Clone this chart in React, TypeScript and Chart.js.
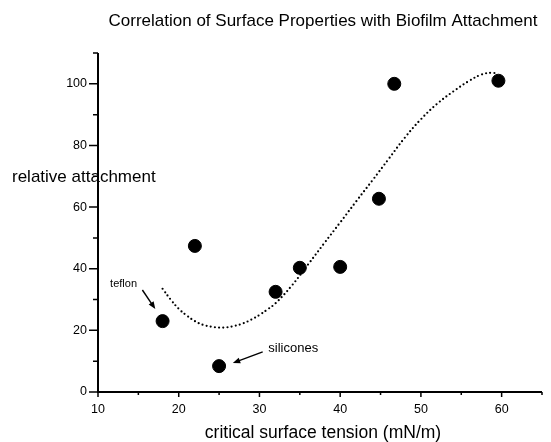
import React, { useEffect, useRef } from "react";
import { Chart, registerables } from "chart.js";

Chart.register(...registerables);

const tension = [18, 22, 25, 32, 35, 40, 44.8, 46.7, 59.6];
const attachment = [23, 47.4, 8.4, 32.5, 40.3, 40.6, 62.7, 100, 101];

const fitX = [18, 19, 20, 21, 22, 23, 24, 25, 26, 27, 28, 29, 30, 31, 32, 34, 36, 38, 40, 42, 44, 46, 48, 50, 52, 54, 56, 57.5, 58.8, 59.5];
const fitY = [33.5, 30, 27, 24.8, 23, 21.8, 21.2, 20.9, 21, 21.5, 22.3, 23.5, 25, 26.8, 28.8, 34.5, 41.3, 48.2, 55, 61.9, 68.7, 75.6, 82.5, 88.5, 93.5, 97.5, 101, 103, 103.6, 103.2];

const xMajorTicks = [10, 20, 30, 40, 50, 60];
const xMinorTicks = [15, 25, 35, 45, 55, 65];
const yMajorTicks = [0, 20, 40, 60, 80, 100];
const yMinorTicks = [10, 30, 50, 70, 90, 110];

const titleText = "Correlation of Surface Properties with Biofilm Attachment";
const xTitle = "critical surface tension (mN/m)";
const yTitle = "relative attachment";

const noteLabels = ["teflon", "silicones"];
const noteSizes = [11, 13];
const noteX = [11.5, 31.1];
const noteY = [34, 13];
const arrowFromX = [15.5, 30.4];
const arrowFromY = [33.1, 13];
const arrowToX = [17.1, 26.7];
const arrowToY = [26.9, 9.4];

const FONT = '"Liberation Sans", Arial, Helvetica, sans-serif';

const decorPlugin = {
  id: "decor",
  afterDraw(chart: any) {
    const ctx = chart.ctx;
    const xs = chart.scales.x;
    const ys = chart.scales.y;
    const area = chart.chartArea;
    ctx.save();
    ctx.strokeStyle = "#000";
    ctx.fillStyle = "#000";
    // axes
    ctx.lineWidth = 2;
    ctx.beginPath();
    ctx.moveTo(area.left, area.top);
    ctx.lineTo(area.left, area.bottom);
    ctx.lineTo(area.right, area.bottom);
    ctx.stroke();
    ctx.lineWidth = 1.5;
    ctx.beginPath();
    xMajorTicks.forEach((v) => {
      const p = xs.getPixelForValue(v);
      ctx.moveTo(p, area.bottom);
      ctx.lineTo(p, area.bottom + 5);
    });
    xMinorTicks.forEach((v) => {
      const p = xs.getPixelForValue(v);
      ctx.moveTo(p, area.bottom);
      ctx.lineTo(p, area.bottom + 3);
    });
    yMajorTicks.forEach((v) => {
      const p = ys.getPixelForValue(v);
      ctx.moveTo(area.left, p);
      ctx.lineTo(area.left - 9, p);
    });
    yMinorTicks.forEach((v) => {
      const p = ys.getPixelForValue(v);
      ctx.moveTo(area.left, p);
      ctx.lineTo(area.left - 5, p);
    });
    ctx.stroke();

    // titles
    ctx.textBaseline = "alphabetic";
    ctx.textAlign = "center";
    ctx.font = `17px ${FONT}`;
    ctx.fillText(titleText, 323, 26);
    ctx.font = `17.5px ${FONT}`;
    ctx.fillText(xTitle, 323, 438);
    ctx.font = `17px ${FONT}`;
    ctx.textAlign = "left";
    ctx.fillText(yTitle, 12, 182);

    // annotations
    ctx.textAlign = "left";
    noteLabels.forEach((t, i) => {
      ctx.font = `${noteSizes[i]}px ${FONT}`;
      ctx.fillText(t, xs.getPixelForValue(noteX[i]), ys.getPixelForValue(noteY[i]));
      const x1 = xs.getPixelForValue(arrowFromX[i]);
      const y1 = ys.getPixelForValue(arrowFromY[i]);
      const x2 = xs.getPixelForValue(arrowToX[i]);
      const y2 = ys.getPixelForValue(arrowToY[i]);
      const ang = Math.atan2(y2 - y1, x2 - x1);
      ctx.lineWidth = 1.4;
      ctx.beginPath();
      ctx.moveTo(x1, y1);
      ctx.lineTo(x2 - 4 * Math.cos(ang), y2 - 4 * Math.sin(ang));
      ctx.stroke();
      const hl = 8;
      const hw = 0.38;
      ctx.beginPath();
      ctx.moveTo(x2, y2);
      ctx.lineTo(x2 - hl * Math.cos(ang - hw), y2 - hl * Math.sin(ang - hw));
      ctx.lineTo(x2 - hl * Math.cos(ang + hw), y2 - hl * Math.sin(ang + hw));
      ctx.closePath();
      ctx.fill();
    });
    ctx.restore();
  },
};

export default function App() {
  const ref = useRef<HTMLCanvasElement | null>(null);
  useEffect(() => {
    if (!ref.current) return;
    const chart = new Chart(ref.current, {
      type: "scatter",
      data: {
        datasets: [
          {
            type: "line",
            data: fitX.map((x, i) => ({ x, y: fitY[i] })),
            borderColor: "#000",
            borderWidth: 2.2,
            borderDash: [0, 4.2],
            borderCapStyle: "round",
            pointRadius: 0,
            tension: 0.4,
            fill: false,
          } as any,
          {
            type: "scatter",
            data: tension.map((x, i) => ({ x, y: attachment[i] })),
            backgroundColor: "#000",
            borderColor: "#000",
            pointRadius: 6.5,
            pointHoverRadius: 6.5,
          },
        ],
      },
      options: {
        responsive: false,
        animation: false,
        layout: { padding: { left: 0, top: 53, right: 9, bottom: 0 } },
        plugins: { legend: { display: false }, tooltip: { enabled: false }, title: { display: false } },
        scales: {
          x: {
            type: "linear",
            min: 10,
            max: 65,
            grid: { display: false },
            border: { display: false },
            afterFit: (s: any) => { s.height = 50; },
            ticks: {
              stepSize: 10,
              autoSkip: false,
              maxRotation: 0,
              padding: 2,
              color: "#000",
              font: { family: FONT, size: 12.5 },
              callback: (v: any) => (xMajorTicks.includes(Number(v)) ? String(v) : ""),
            },
          },
          y: {
            type: "linear",
            min: 0,
            max: 110,
            grid: { display: false },
            border: { display: false },
            afterFit: (s: any) => { s.width = 98; },
            ticks: {
              stepSize: 20,
              autoSkip: false,
              padding: 3,
              color: "#000",
              font: { family: FONT, size: 12.5 },
              callback: (v: any) => (yMajorTicks.includes(Number(v)) ? String(v) : ""),
            },
          },
        },
      },
      plugins: [decorPlugin],
    });
    return () => chart.destroy();
  }, []);
  return (
    <div style={{ position: "fixed", left: 0, top: 0, width: 551, height: 442, background: "#fff" }}>
      <canvas ref={ref} width={551} height={442} style={{ width: 551, height: 442 }} />
    </div>
  );
}
